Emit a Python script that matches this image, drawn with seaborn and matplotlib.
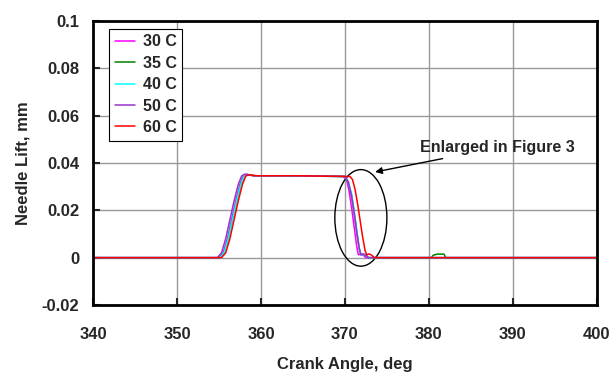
import pandas as pd
import seaborn as sns
import matplotlib.pyplot as plt
from matplotlib.patches import Ellipse

# needle lift traces (crank angle in deg, lift in mm)
angle_30 = [340, 355.0, 355.5, 356.0, 356.5, 357.0, 357.5, 357.9, 358.3, 359.2, 364.0, 369.8,
            370.2, 370.5, 370.8, 371.1, 371.4, 371.6, 371.9, 372.2, 372.5, 400]
lift_30 = [0, 0, 0.002, 0.008, 0.016, 0.024, 0.031, 0.0345, 0.0352, 0.0346, 0.0346, 0.0343,
           0.033, 0.028, 0.021, 0.013, 0.005, 0.0012, 0.0015, 0.001, 0, 0]

angle_35 = [340, 355.1, 355.6, 356.1, 356.6, 357.1, 357.6, 358.0, 358.4, 359.3, 364.0, 370.0,
            370.4, 370.8, 371.1, 371.4, 371.7, 371.9, 372.2, 372.5, 372.8, 380.3, 380.5, 381.0,
            381.8, 382.0, 400]
lift_35 = [0, 0, 0.002, 0.008, 0.016, 0.024, 0.031, 0.0345, 0.0351, 0.0346, 0.0345, 0.0343,
           0.032, 0.026, 0.019, 0.011, 0.004, 0.0012, 0.0015, 0.001, 0, 0, 0.001, 0.0015,
           0.0015, 0, 0]

angle_40 = [340, 355.1, 355.6, 356.1, 356.6, 357.1, 357.6, 358.0, 358.4, 359.3, 364.0, 370.0,
            370.4, 370.8, 371.1, 371.4, 371.7, 371.9, 372.2, 372.5, 372.8, 400]
lift_40 = [0, 0, 0.002, 0.008, 0.016, 0.024, 0.031, 0.0345, 0.0351, 0.0346, 0.0345, 0.0343,
           0.032, 0.027, 0.020, 0.012, 0.004, 0.0012, 0.0014, 0.001, 0, 0]

angle_50 = [340, 354.8, 355.3, 355.8, 356.3, 356.8, 357.3, 357.7, 358.1, 359.0, 364.0, 370.0,
            370.4, 370.8, 371.1, 371.4, 371.7, 371.9, 372.2, 372.5, 372.8, 400]
lift_50 = [0, 0, 0.002, 0.008, 0.016, 0.024, 0.031, 0.0345, 0.0353, 0.0346, 0.0346, 0.0343,
           0.032, 0.026, 0.019, 0.011, 0.004, 0.0012, 0.0016, 0.001, 0, 0]

angle_60 = [340, 355.3, 355.8, 356.3, 356.8, 357.3, 357.8, 358.2, 358.6, 359.5, 364.0, 370.6,
            370.9, 371.2, 371.5, 371.8, 372.1, 372.4, 372.6, 372.9, 373.2, 373.5, 400]
lift_60 = [0, 0, 0.002, 0.008, 0.016, 0.024, 0.031, 0.0345, 0.0350, 0.0346, 0.0346, 0.0343,
           0.033, 0.029, 0.023, 0.016, 0.009, 0.003, 0.0012, 0.0016, 0.001, 0, 0]

labels = ["30 C", "35 C", "40 C", "50 C", "60 C"]
colors = ["#FF00FF", "#008000", "#00FFFF", "#9933CC", "#FF0000"]

traces = [(angle_30, lift_30), (angle_35, lift_35), (angle_40, lift_40),
          (angle_50, lift_50), (angle_60, lift_60)]
frames = []
for lab, (a, l) in zip(labels, traces):
    frames.append(pd.DataFrame({"angle": a, "lift": l, "temp": lab}))
df = pd.concat(frames, ignore_index=True)

sns.set_style("white")
plt.rcParams["font.family"] = ["Liberation Sans", "DejaVu Sans"]
plt.rcParams["font.weight"] = "bold"

fig, ax = plt.subplots(figsize=(6.14, 3.74), dpi=100)
fig.subplots_adjust(left=0.1515, right=0.972, bottom=0.1845, top=0.944)

sns.lineplot(data=df, x="angle", y="lift", hue="temp", hue_order=labels,
             palette=dict(zip(labels, colors)), sort=False, estimator=None,
             linewidth=1.1, legend=False, ax=ax)

ax.set_xlim(340, 400)
ax.set_ylim(-0.02, 0.1)
ax.set_xticks(range(340, 401, 10))
ax.set_yticks([-0.02, 0, 0.02, 0.04, 0.06, 0.08, 0.1])
ax.set_yticklabels(["-0.02", "0", "0.02", "0.04", "0.06", "0.08", "0.1"])
ax.grid(True, color="#999999", linewidth=1.0)
ax.set_axisbelow(True)
for s in ax.spines.values():
    s.set_color("black")
    s.set_linewidth(2)
ax.tick_params(axis="both", direction="in", length=5, width=1.5, labelsize=12,
               bottom=True, left=True)
ax.tick_params(axis="y", pad=10)
ax.tick_params(axis="x", pad=16)
ax.set_xlabel("Crank Angle, deg", fontsize=12, fontweight="bold", labelpad=11)
ax.set_ylabel("Needle Lift, mm", fontsize=12, fontweight="bold", labelpad=8)

ax.legend(handles=ax.lines[:5], labels=labels, loc="upper left",
          bbox_to_anchor=(0.032, 0.972), borderaxespad=0, frameon=True, fancybox=False,
          edgecolor="black", framealpha=1, handlelength=1.3, handletextpad=0.45,
          labelspacing=0.4, borderpad=0.35, prop={"weight": "bold", "size": 11.5})
ax.get_legend().get_frame().set_linewidth(0.8)

ax.add_patch(Ellipse((371.9, 0.0168), 6.2, 0.0408, fill=False,
                     edgecolor="black", linewidth=1.0))
ax.annotate("Enlarged in Figure 3", xy=(373.6, 0.0362), xytext=(378.9, 0.0464),
            fontsize=11.5, fontweight="bold", va="center", ha="left",
            arrowprops=dict(arrowstyle="-|>", color="black", lw=1.0,
                            shrinkA=0, shrinkB=0, mutation_scale=10))

fig.savefig("out.png", dpi=100)
